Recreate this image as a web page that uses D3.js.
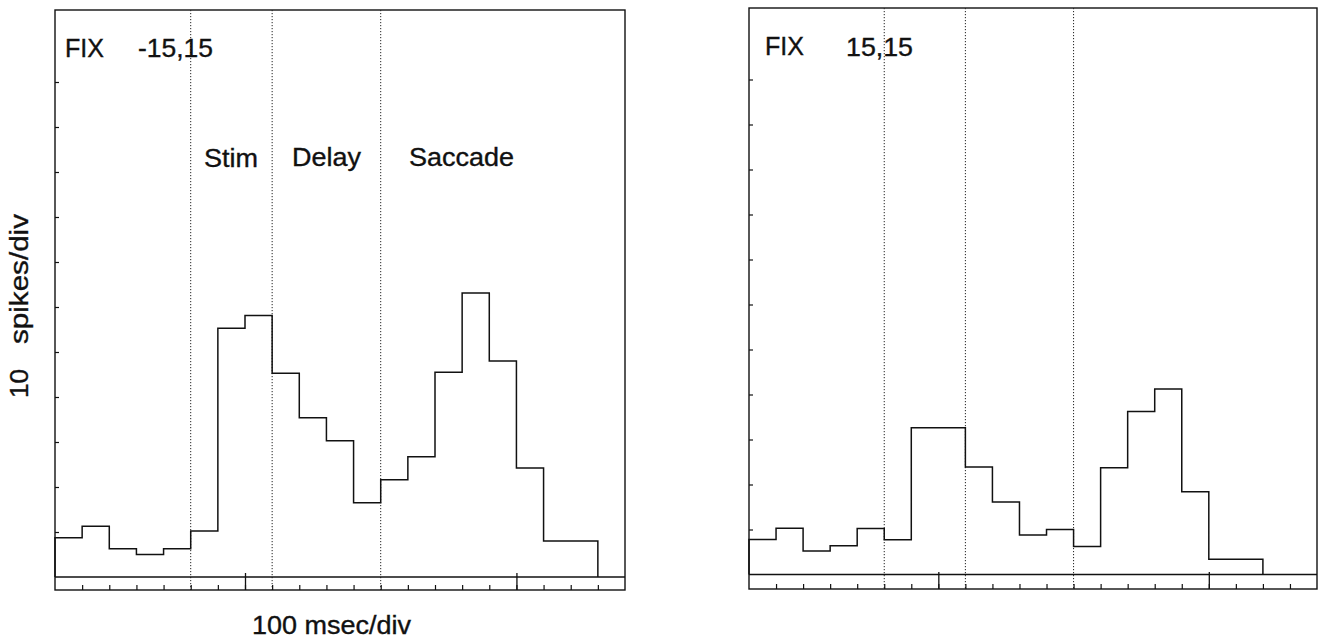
<!DOCTYPE html>
<html>
<head>
<meta charset="utf-8">
<script src="https://cdn.jsdelivr.net/npm/d3@7/dist/d3.min.js"></script>
<style>
  html, body { margin: 0; padding: 0; background: #fff; }
  svg { display: block; }
  text { font-family: "Liberation Sans", Arial, Helvetica, sans-serif; fill: #111; stroke: #111; stroke-width: 0.35px; }
</style>
</head>
<body>
<svg id="chart" width="1319" height="641"></svg>
<script>
// ---------- data (spikes per bin, one bin per minor tick) ----------
const binsLeft  = [8.7, 11.3, 6.3, 5.0, 6.3, 10.2, 55.3, 58.1, 45.3, 35.4,
                   30.3, 16.5, 21.6, 26.7, 45.5, 63.1, 48.0, 24.2, 8.0, 8.0];
const binsRight = [7.8, 10.3, 5.2, 6.4, 10.2, 7.7, 32.6, 32.6, 23.9, 16.1,
                   8.8, 10.0, 6.2, 23.7, 36.2, 41.2, 18.4, 3.4, 3.4];
const eventLines = [5, 8, 12];           // bin positions of the dotted epoch markers
const epochLabels = ["Stim", "Delay", "Saccade"];
const minorTicksX = d3.range(1, 21);     // one tick per bin
const majorTicksX = [7, 17];
const ticksY = [10, 20, 30, 40, 50, 60, 70, 80, 90, 100, 110];
const titleLeft = ["FIX", "-15,15"];
const titleRight = ["FIX", "15,15"];
const xAxisTitle = "100 msec/div";
const yAxisTitle = ["10", "spikes/div"];

// ---------- layout ----------
const svg = d3.select("#chart");
const panels = [
  { bins: binsLeft,  title: titleLeft,  x0: 55,  x1: 625,  top: 10, bottom: 590, base: 577,
    titlePos: [[65, 57, 39], [138, 57, 75]], showEpochs: true },
  { bins: binsRight, title: titleRight, x0: 749, x1: 1317, top: 8,  bottom: 589, base: 574.5,
    titlePos: [[765, 55, 39], [846, 56, 67]], showEpochs: false }
];
const epochPos = [[204, 167, 54], [292, 166, 69], [409, 166, 105]];
const unitPx = 4.5; // px per spike
const FS = 25;

panels.forEach(p => {
  const g = svg.append("g");
  const x = d3.scaleLinear().domain([0, 21]).range([p.x0, p.x1]);
  const y = d3.scaleLinear()
    .domain([(p.base - p.bottom) / unitPx, (p.base - p.top) / unitPx])
    .range([p.bottom, p.top]);

  // frame
  g.append("rect")
    .attr("x", p.x0).attr("y", p.top)
    .attr("width", p.x1 - p.x0).attr("height", p.bottom - p.top)
    .attr("fill", "none").attr("stroke", "#111").attr("stroke-width", 1.4);

  // dotted epoch lines
  g.selectAll("line.ev").data(eventLines).join("line")
    .attr("class", "ev")
    .attr("x1", d => x(d)).attr("x2", d => x(d))
    .attr("y1", p.top).attr("y2", p.bottom)
    .attr("stroke", "#222").attr("stroke-width", 1)
    .attr("stroke-dasharray", "1.2,1.8");

  // zero baseline
  g.append("line")
    .attr("x1", p.x0).attr("x2", p.x1)
    .attr("y1", y(0)).attr("y2", y(0))
    .attr("stroke", "#111").attr("stroke-width", 1.4);

  // x axis minor ticks (pointing up from bottom frame)
  const axMinor = d3.axisTop(x).tickValues(minorTicksX).tickSize(5).tickFormat("");
  const gx = g.append("g").attr("transform", `translate(0,${p.bottom})`).call(axMinor);
  gx.select(".domain").remove();
  gx.selectAll("line").attr("stroke", "#111").attr("stroke-width", 1.2);

  const axMajor = d3.axisTop(x).tickValues(majorTicksX).tickSize(17).tickFormat("");
  const gxM = g.append("g").attr("transform", `translate(0,${p.bottom})`).call(axMajor);
  gxM.select(".domain").remove();
  gxM.selectAll("line").attr("stroke", "#111").attr("stroke-width", 1.3);

  // y axis ticks (pointing right from left frame)
  const ay = d3.axisRight(y).tickValues(ticksY.filter(v => y(v) > p.top + 5)).tickSize(4).tickFormat("");
  const gy = g.append("g").attr("transform", `translate(${p.x0},0)`).call(ay);
  gy.select(".domain").remove();
  gy.selectAll("line").attr("stroke", "#111").attr("stroke-width", 1.2);

  // histogram step outline
  const n = p.bins.length;
  const stepPts = p.bins.map((v, i) => [i, v]).concat([[n, p.bins[n - 1]]]);
  const path = d3.path();
  path.moveTo(x(0), y(0));
  stepPts.forEach((d, i) => {
    if (i === 0) { path.lineTo(x(d[0]), y(d[1])); }
    else { path.lineTo(x(d[0]), y(stepPts[i - 1][1])); path.lineTo(x(d[0]), y(d[1])); }
  });
  path.lineTo(x(n), y(0));
  g.append("path")
    .attr("d", path.toString())
    .attr("fill", "none").attr("stroke", "#111").attr("stroke-width", 1.5)
    .attr("stroke-linejoin", "miter");

  // panel title
  p.title.forEach((t, i) => {
    const [tx, ty, tw] = p.titlePos[i];
    g.append("text").attr("x", tx).attr("y", ty)
      .attr("font-size", FS)
      .attr("textLength", tw).attr("lengthAdjust", "spacingAndGlyphs")
      .text(t);
  });

  if (p.showEpochs) {
    epochLabels.forEach((t, i) => {
      const [tx, ty, tw] = epochPos[i];
      g.append("text").attr("x", tx).attr("y", ty)
        .attr("font-size", FS)
        .attr("textLength", tw).attr("lengthAdjust", "spacingAndGlyphs")
        .text(t);
    });
  }
});

// axis titles
svg.append("text").attr("x", 252).attr("y", 634)
  .attr("font-size", FS)
  .attr("textLength", 159).attr("lengthAdjust", "spacingAndGlyphs")
  .text(xAxisTitle);

svg.append("text")
  .attr("transform", "translate(28,398) rotate(-90)")
  .attr("font-size", FS)
  .attr("textLength", 29).attr("lengthAdjust", "spacingAndGlyphs")
  .text(yAxisTitle[0]);
svg.append("text")
  .attr("transform", "translate(28,344) rotate(-90)")
  .attr("font-size", FS)
  .attr("textLength", 130).attr("lengthAdjust", "spacingAndGlyphs")
  .text(yAxisTitle[1]);
</script>
</body>
</html>
